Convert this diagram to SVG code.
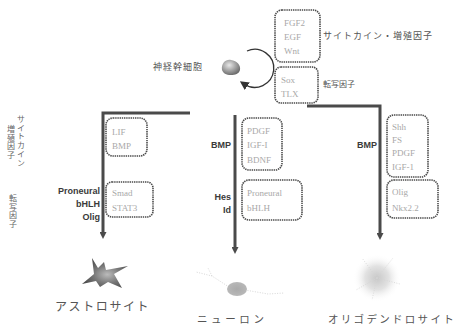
<svg xmlns="http://www.w3.org/2000/svg" width="461" height="326" viewBox="0 0 461 326">
  <defs>
    <style>
      .box { fill: none; stroke: #4a4a4a; stroke-width: 1.6; stroke-dasharray: 1.4 0.8; }
      .bt { font-family: "Liberation Serif", "DejaVu Serif", serif; font-size: 9px; fill: #a8a8a8; }
      .lbl { font-family: "Liberation Sans", "DejaVu Sans", sans-serif; font-size: 9px; font-weight: bold; fill: #3a3a3a; text-anchor: end; }
      .jp { font-family: "Noto Sans CJK JP", "Noto Sans CJK SC", sans-serif; fill: #555; }
      .jpv { font-family: "Noto Sans CJK JP", "Noto Sans CJK SC", sans-serif; font-size: 8px; fill: #666; letter-spacing: 0.7px; }
      .flow { fill: none; stroke: #4a4a4a; stroke-width: 3; }
    </style>
    <marker id="head" markerWidth="7" markerHeight="7" refX="3" refY="3.5" orient="auto" markerUnits="userSpaceOnUse">
      <path d="M0,0 L7,3.5 L0,7 Z" fill="#4a4a4a"/>
    </marker>
    <marker id="headThin" markerWidth="9" markerHeight="9" refX="4" refY="4.5" orient="auto" markerUnits="userSpaceOnUse">
      <path d="M0,0 L9,4.5 L0,9 Z" fill="#333"/>
    </marker>
    <radialGradient id="stemGrad" cx="0.4" cy="0.35" r="0.7">
      <stop offset="0" stop-color="#e8e8e8"/>
      <stop offset="0.6" stop-color="#999"/>
      <stop offset="1" stop-color="#666"/>
    </radialGradient>
    <radialGradient id="astroGrad" cx="0.55" cy="0.55" r="0.6">
      <stop offset="0" stop-color="#bbb"/>
      <stop offset="0.5" stop-color="#777"/>
      <stop offset="1" stop-color="#444"/>
    </radialGradient>
    <radialGradient id="neuroGrad" cx="0.5" cy="0.5" r="0.6">
      <stop offset="0" stop-color="#aaa"/>
      <stop offset="1" stop-color="#bbb"/>
    </radialGradient>
    <radialGradient id="oligoGrad" cx="0.5" cy="0.5" r="0.5">
      <stop offset="0" stop-color="#c8c8c8"/>
      <stop offset="0.5" stop-color="#e2e2e2"/>
      <stop offset="1" stop-color="#fff" stop-opacity="0"/>
    </radialGradient>
  </defs>

  <rect width="461" height="326" fill="#fff"/>

  <!-- connectors: lineage arrows and self-renewal loop -->
  <g id="connectors">
    <path class="flow" d="M190,113 H103 V235" marker-end="url(#head)"/>
    <path class="flow" d="M235,115 V250" marker-end="url(#head)"/>
    <path class="flow" d="M307,106 H380 V236" marker-end="url(#head)"/>
    <path d="M247,51 A19,19 0 1 1 244,84" fill="none" stroke="#333" stroke-width="1.3" marker-end="url(#headThin)"/>
  </g>

  <!-- neural stem cell -->
  <g id="stem-cell">
    <path d="M222,70 C221,63 226,59 231,60 C237,61 241,65 240,70 C239,74 235,75 231,75 C226,75 223,73 222,70 Z" fill="url(#stemGrad)"/>
    <text class="jp" x="153" y="70" font-size="9" letter-spacing="1">神経幹細胞</text>
  </g>

  <!-- extrinsic signals -->
  <g id="cytokines">
    <rect class="box" x="275" y="10" width="45" height="52" rx="7"/>
    <text class="bt" x="284" y="26">FGF2</text>
    <text class="bt" x="284" y="40">EGF</text>
    <text class="bt" x="284" y="54">Wnt</text>
    <text class="jp" x="323" y="39" font-size="9" letter-spacing="1">サイトカイン・増殖因子</text>
  </g>

  <!-- intrinsic factors -->
  <g id="transcription-factors">
    <rect class="box" x="275" y="67" width="43" height="36" rx="6"/>
    <text class="bt" x="281" y="83">Sox</text>
    <text class="bt" x="281" y="97">TLX</text>
    <text class="jp" x="323" y="87" font-size="8">転写因子</text>
  </g>

  <!-- row headings, set in vertical writing mode -->
  <g id="row-labels">
    <text class="jpv" x="21" y="115" writing-mode="tb">サイトカイン</text>
    <text class="jpv" x="11" y="125" writing-mode="tb">増殖因子</text>
    <text class="jpv" x="13" y="194" writing-mode="tb">転写因子</text>
  </g>

  <!-- astrocyte lineage -->
  <g id="astro-signals">
    <rect class="box" x="106" y="118" width="41" height="38" rx="7"/>
    <text class="bt" x="112" y="135">LIF</text>
    <text class="bt" x="112" y="149">BMP</text>
  </g>
  <g id="astro-factors">
    <rect class="box" x="106" y="182" width="47" height="35" rx="6"/>
    <text class="bt" x="112" y="196">Smad</text>
    <text class="bt" x="112" y="211">STAT3</text>
    <text class="lbl" x="100" y="194">Proneural</text>
    <text class="lbl" x="100" y="207">bHLH</text>
    <text class="lbl" x="100" y="220">Olig</text>
  </g>

  <!-- neuron lineage -->
  <g id="neuron-signals">
    <rect class="box" x="242" y="118" width="40" height="52" rx="7"/>
    <text class="bt" x="247" y="134">PDGF</text>
    <text class="bt" x="247" y="148">IGF-I</text>
    <text class="bt" x="247" y="163">BDNF</text>
    <text class="lbl" x="231" y="148">BMP</text>
  </g>
  <g id="neuron-factors">
    <rect class="box" x="242" y="180" width="60" height="40" rx="7"/>
    <text class="bt" x="247" y="196">Proneural</text>
    <text class="bt" x="247" y="211">bHLH</text>
    <text class="lbl" x="231" y="200">Hes</text>
    <text class="lbl" x="231" y="213">Id</text>
  </g>

  <!-- oligodendrocyte lineage -->
  <g id="oligo-signals">
    <rect class="box" x="387" y="115" width="41" height="62" rx="7"/>
    <text class="bt" x="392" y="130">Shh</text>
    <text class="bt" x="392" y="143">FS</text>
    <text class="bt" x="392" y="156">PDGF</text>
    <text class="bt" x="392" y="170">IGF-1</text>
    <text class="lbl" x="377" y="148">BMP</text>
  </g>
  <g id="oligo-factors">
    <rect class="box" x="387" y="180" width="51" height="38" rx="7"/>
    <text class="bt" x="392" y="195">Olig</text>
    <text class="bt" x="392" y="211">Nkx2.2</text>
  </g>

  <!-- differentiated cells -->
  <g id="astrocyte">
    <path d="M82,284 L94,274 L92,258 L98,268 L104,262 L106,270 L128,266 L114,274 L122,288 L108,282 L100,287 L96,281 Z" fill="url(#astroGrad)"/>
    <text class="jp" x="55" y="311" font-size="12" letter-spacing="1.6">アストロサイト</text>
  </g>
  <g id="neuron">
    <g stroke="#ccc" stroke-width="0.8" fill="none" stroke-dasharray="1 1.5">
      <path d="M229,287 L212,276 L196,272"/>
      <path d="M212,276 L208,268"/>
      <path d="M245,290 L268,294 L284,293"/>
    </g>
    <ellipse cx="237" cy="289" rx="10" ry="7" fill="url(#neuroGrad)"/>
    <text class="jp" x="197" y="323" font-size="10.5" letter-spacing="3.6" fill="#777">ニューロン</text>
  </g>
  <g id="oligodendrocyte">
    <ellipse cx="377" cy="278" rx="24" ry="24" fill="url(#oligoGrad)"/>
    <g stroke="#d4d4d4" stroke-width="0.8" stroke-dasharray="1 1.5" fill="none">
      <path d="M377,278 L362,258"/>
      <path d="M377,278 L393,258"/>
      <path d="M377,278 L400,284"/>
      <path d="M377,278 L356,290"/>
      <path d="M377,278 L372,300"/>
    </g>
    <text class="jp" x="328" y="323" font-size="10.5" letter-spacing="2.3">オリゴデンドロサイト</text>
  </g>
</svg>
